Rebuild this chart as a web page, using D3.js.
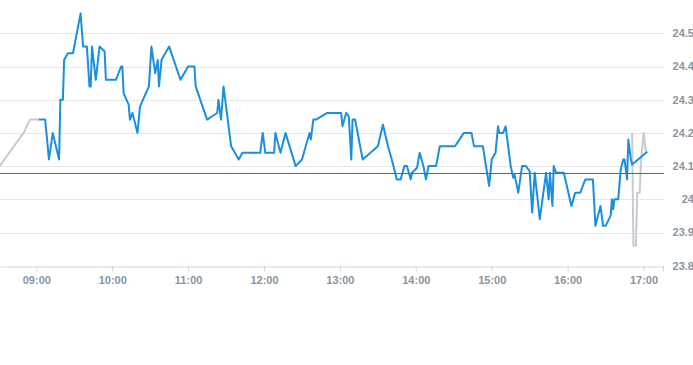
<!DOCTYPE html>
<html>
<head>
<meta charset="utf-8">
<script src="https://cdn.jsdelivr.net/npm/d3@7"></script>
<style>
  html, body { margin: 0; padding: 0; background: #fff; }
  svg { display: block; font-family: "Liberation Sans", Arial, sans-serif; }
</style>
</head>
<body>
<svg id="chart" width="693" height="365"></svg>
<script>
// ---- data ----
const mainTimes = ["09:02","09:07","09:10","09:13","09:18","09:19","09:21","09:22","09:25","09:29","09:31","09:33","09:35","09:37","09:40","09:42","09:43","09:44","09:47","09:50","09:54","09:55",
  "10:03","10:07","10:08","10:09","10:13","10:14","10:16","10:20","10:22","10:29","10:31","10:34","10:36","10:37","10:39","10:45","10:54",
  "11:00","11:05","11:06","11:15","11:23","11:24","11:26","11:28","11:34","11:40","11:43","11:57","11:59",
  "12:01","12:08","12:09","12:13","12:17","12:25","12:30","12:36","12:37","12:39","12:41","12:50",
  "13:01","13:02","13:05","13:07","13:09","13:10","13:12","13:18","13:30","13:34","13:38","13:41","13:45","13:48","13:51","13:53","13:56","13:57",
  "14:01","14:03","14:06","14:08","14:10","14:16","14:19","14:31","14:38","14:44","14:46","14:53","14:58",
  "15:00","15:03","15:05","15:06","15:09","15:11","15:15","15:17","15:18","15:21","15:24","15:27","15:30","15:32","15:34","15:38","15:43","15:45","15:46","15:48","15:49","15:51","15:57",
  "16:03","16:06","16:10","16:14","16:20","16:22","16:26","16:28","16:30","16:34","16:35","16:36","16:37","16:40","16:42","16:44","16:45","16:47","16:48","16:50","16:51","17:03"];
const mainValues = [24.24,24.24,24.12,24.20,24.12,24.30,24.30,24.42,24.44,24.44,24.48,24.52,24.56,24.46,24.46,24.34,24.34,24.46,24.36,24.46,24.445,24.36,
  24.36,24.40,24.40,24.32,24.285,24.24,24.26,24.20,24.28,24.34,24.46,24.38,24.42,24.34,24.42,24.46,24.36,
  24.40,24.40,24.34,24.24,24.26,24.30,24.24,24.34,24.16,24.12,24.14,24.14,24.20,
  24.14,24.14,24.20,24.14,24.20,24.10,24.12,24.20,24.18,24.24,24.24,24.26,
  24.26,24.22,24.26,24.25,24.12,24.24,24.24,24.12,24.16,24.225,24.16,24.12,24.06,24.06,24.10,24.10,24.06,24.08,
  24.095,24.14,24.10,24.06,24.10,24.10,24.16,24.16,24.20,24.20,24.16,24.16,24.04,
  24.12,24.14,24.22,24.20,24.20,24.22,24.10,24.065,24.075,24.02,24.10,24.10,24.085,23.96,24.08,23.94,24.08,24.00,24.08,23.98,24.10,24.08,24.08,
  23.98,24.02,24.02,24.06,24.06,23.92,23.98,23.92,23.92,23.95,24.00,23.97,24.00,24.00,24.09,24.12,24.12,24.06,24.18,24.12,24.105,24.143];

const preTimes  = ["08:31","08:50","08:55","09:02"];
const preValues = [24.10,24.20,24.24,24.24];

const postTimes  = ["16:51","16:52","16:54","16:55","16:57","16:58","17:00","17:02"];
const postValues = [24.20,23.86,23.86,24.02,24.02,24.11,24.20,24.14];

const refValue = 24.08;
const yTicks = [23.8,23.9,24.0,24.1,24.2,24.3,24.4,24.5];
const xDomain = ["08:31:18","17:16:12"];

// ---- chart ----
const parse = d3.timeParse("%H:%M");
const parseS = d3.timeParse("%H:%M:%S");
const svg = d3.select("#chart");
const plotW = 664, plotTop = 33.3, plotBottom = 265.7;
const labelColor = "#8a949f";

const x = d3.scaleTime().domain(xDomain.map(parseS)).range([0, plotW]);
const y = d3.scaleLinear().domain([23.8, 24.5]).range([plotBottom, plotTop]);

svg.append("defs").append("clipPath").attr("id","clip")
  .append("rect").attr("x",0).attr("y",0).attr("width",plotW).attr("height",plotBottom);

// grid lines
svg.append("g").selectAll("line").data(yTicks.filter(v => v > 23.85)).join("line")
  .attr("x1", 0).attr("x2", plotW)
  .attr("y1", d => Math.round(y(d)) + 0.5).attr("y2", d => Math.round(y(d)) + 0.5)
  .attr("stroke", "#e6e6e6").attr("stroke-width", 1);

// y labels (right)
const fmt = d3.format(".1~f");
svg.append("g").selectAll("text").data(yTicks).join("text")
  .attr("x", 694).attr("y", d => y(d))
  .attr("dy", "0.35em").attr("text-anchor", "end")
  .attr("font-size", 11).attr("font-weight", "bold").attr("fill", labelColor)
  .text(d => fmt(d));

// x axis
const xAxis = d3.axisBottom(x).ticks(d3.timeHour.every(1)).tickFormat(d3.timeFormat("%H:%M"))
  .tickSize(5).tickSizeOuter(0);
const gx = svg.append("g").attr("transform", `translate(0,${Math.round(plotBottom)+0.5})`).call(xAxis);
gx.select(".domain").attr("stroke", "#ccd6eb");
gx.selectAll(".tick line").attr("stroke", "#ccd6eb");
gx.selectAll(".tick text").attr("font-size", 11).attr("font-weight", "bold").attr("fill", labelColor)
  .attr("font-family", "Liberation Sans, Arial, sans-serif").attr("dy", 0).attr("y", 17);
gx.append("line").attr("x1", plotW - 0.5).attr("x2", plotW - 0.5).attr("y1", 0).attr("y2", 5).attr("stroke", "#ccd6eb");

// lines
const line = d3.line().x(d => x(d[0])).y(d => y(d[1]));
const g = svg.append("g").attr("clip-path", "url(#clip)");

const pre = preTimes.map((t, i) => [parse(t), preValues[i]]);
const post = postTimes.map((t, i) => [parse(t), postValues[i]]);
const main = mainTimes.map((t, i) => [parse(t), mainValues[i]]);

g.append("path").datum(pre).attr("d", line).attr("fill", "none")
  .attr("stroke", "#c4cbd2").attr("stroke-width", 2).attr("stroke-linejoin", "round");
g.append("path").datum(post).attr("d", line).attr("fill", "none")
  .attr("stroke", "#c4cbd2").attr("stroke-width", 2).attr("stroke-linejoin", "round");
g.append("path").datum(main).attr("d", line).attr("fill", "none")
  .attr("stroke", "#1a8fdd").attr("stroke-width", 2).attr("stroke-linejoin", "round");

// reference line
svg.append("line").attr("x1", 0).attr("x2", plotW)
  .attr("y1", Math.round(y(refValue)) + 0.5).attr("y2", Math.round(y(refValue)) + 0.5)
  .attr("stroke", "rgb(220,50,40)").attr("stroke-width", 1);
</script>
</body>
</html>
